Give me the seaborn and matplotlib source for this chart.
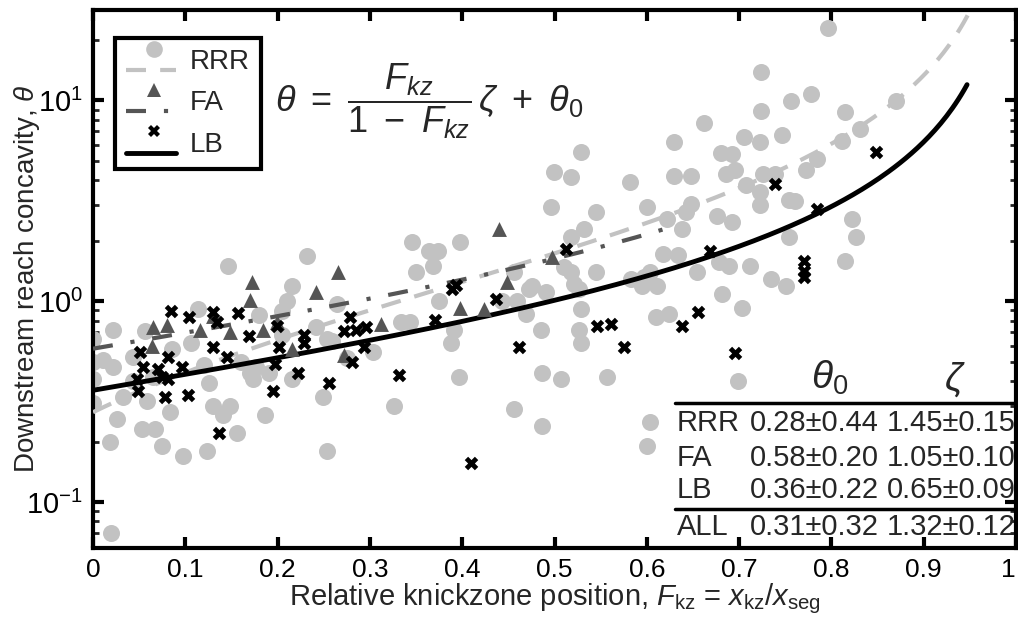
import numpy as np
import pandas as pd
import matplotlib
matplotlib.use('Agg')
import matplotlib.pyplot as plt
import seaborn as sns
from matplotlib.lines import Line2D
from matplotlib.legend_handler import HandlerBase

# RRR points (light grey circles)
rrr_x = [0.796, 0.724, 0.778, 0.756, 0.724, 0.815, 0.662, 0.705, 0.746, 0.723,
         0.630, 0.831, 0.811, 0.680, 0.692, 0.696, 0.686, 0.726, 0.739, 0.784,
         0.772, 0.629, 0.648, 0.708, 0.723, 0.723, 0.754, 0.761, 0.648, 0.622,
         0.638, 0.676, 0.692, 0.822, 0.827, 0.754, 0.618, 0.634, 0.654, 0.678,
         0.689, 0.712, 0.735, 0.751, 0.681, 0.703, 0.815, 0.870, 0.529, 0.582,
         0.545, 0.600, 0.642, 0.532, 0.545, 0.583, 0.595, 0.604, 0.611, 0.526,
         0.529, 0.526, 0.529, 0.610, 0.624, 0.557, 0.699, 0.499, 0.518, 0.496,
         0.346, 0.398, 0.364, 0.374, 0.368, 0.350, 0.518, 0.510, 0.518, 0.456,
         0.476, 0.491, 0.521, 0.375, 0.443, 0.459, 0.469, 0.334, 0.343, 0.391,
         0.485, 0.388, 0.397, 0.486, 0.507, 0.456, 0.486, 0.597, 0.472, 0.232,
         0.216, 0.210, 0.205, 0.264, 0.242, 0.253, 0.259, 0.205, 0.177, 0.191,
         0.216, 0.303, 0.275, 0.249, 0.326, 0.186, 0.254, 0.170, 0.146, 0.022,
         0.114, 0.056, 0.000, 0.011, 0.022, 0.000, 0.000, 0.026, 0.053, 0.067,
         0.018, 0.075, 0.097, 0.123, 0.083, 0.130, 0.148, 0.141, 0.156, 0.126,
         0.173, 0.032, 0.058, 0.043, 0.000, 0.019, 0.604, 0.600, 0.086, 0.106,
         0.120, 0.160, 0.043, 0.065, 0.180]
rrr_y = [22.9, 13.9, 10.8, 9.9, 8.9, 8.8, 7.7, 6.6, 6.7, 6.2,
         6.2, 7.2, 6.3, 5.5, 5.4, 4.5, 4.3, 4.3, 4.3, 5.1,
         4.5, 4.2, 4.2, 3.8, 3.5, 3.0, 3.2, 3.15, 3.05, 2.57,
         2.3, 2.66, 2.48, 2.57, 2.09, 2.09, 1.72, 1.70, 1.40, 1.57,
         1.50, 1.50, 1.29, 1.19, 1.08, 0.93, 1.58, 9.9, 5.56, 3.94,
         2.79, 2.95, 2.79, 2.29, 1.40, 1.29, 1.19, 1.40, 1.19, 1.15,
         0.91, 0.72, 0.62, 0.83, 0.86, 0.42, 0.40, 4.42, 4.17, 2.95,
         1.97, 1.97, 1.78, 1.78, 1.50, 1.40, 2.09, 1.48, 1.40, 1.40,
         1.19, 1.11, 1.22, 1.00, 1.00, 1.00, 0.86, 0.79, 0.79, 0.72,
         0.72, 0.62, 0.42, 0.44, 0.41, 0.29, 0.24, 1.32, 1.15, 1.68,
         1.19, 1.00, 0.89, 0.97, 0.74, 0.65, 0.63, 0.68, 0.47, 0.44,
         0.41, 0.56, 0.52, 0.335, 0.30, 0.27, 0.18, 0.44, 1.50, 0.72,
         0.91, 0.71, 0.65, 0.51, 0.47, 0.41, 0.31, 0.26, 0.23, 0.23,
         0.20, 0.19, 0.17, 0.18, 0.28, 0.30, 0.30, 0.27, 0.22, 0.39,
         0.41, 0.335, 0.32, 0.53, 0.50, 0.07, 0.25, 0.19, 0.58, 0.62,
         0.48, 0.50, 0.40, 0.42, 0.85]

# FA points (dark grey triangles)
fa_x = [0.065, 0.080, 0.064, 0.116, 0.148, 0.130, 0.170, 0.172, 0.184, 0.199,
        0.216, 0.242, 0.265, 0.272, 0.312, 0.398, 0.424, 0.449, 0.440, 0.497]
fa_y = [0.74, 0.76, 0.60, 0.72, 0.70, 0.84, 1.01, 1.24, 0.72, 0.79,
        0.58, 1.11, 1.40, 0.54, 0.77, 0.93, 0.91, 1.24, 2.29, 1.66]

# LB points (black crosses)
lb_x = [0.048, 0.049, 0.051, 0.054, 0.070, 0.075, 0.078, 0.081, 0.081, 0.085,
        0.096, 0.103, 0.104, 0.130, 0.134, 0.130, 0.137, 0.145, 0.157, 0.169,
        0.195, 0.197, 0.199, 0.202, 0.222, 0.229, 0.229, 0.256, 0.272, 0.278,
        0.281, 0.285, 0.294, 0.296, 0.332, 0.370, 0.389, 0.393, 0.410, 0.437,
        0.462, 0.512, 0.546, 0.561, 0.575, 0.638, 0.656, 0.669, 0.696, 0.739,
        0.770, 0.770, 0.770, 0.784, 0.848]
lb_y = [0.41, 0.355, 0.56, 0.47, 0.46, 0.42, 0.335, 0.53, 0.41, 0.89,
        0.47, 0.34, 0.83, 0.88, 0.79, 0.59, 0.22, 0.525, 0.87, 0.67,
        0.355, 0.485, 0.75, 0.59, 0.44, 0.68, 0.62, 0.39, 0.71, 0.83,
        0.50, 0.72, 0.59, 0.74, 0.43, 0.81, 1.15, 1.20, 0.157, 1.02,
        0.59, 1.82, 0.75, 0.77, 0.59, 0.75, 0.88, 1.78, 0.555, 3.84,
        1.58, 1.41, 1.32, 2.88, 5.56]

# fitted parameters (table)
groups = ['RRR', 'FA', 'LB', 'ALL']
theta0 = [0.28, 0.58, 0.36, 0.31]
theta0_err = [0.44, 0.20, 0.22, 0.32]
zeta = [1.45, 1.05, 0.65, 1.32]
zeta_err = [0.15, 0.10, 0.09, 0.12]
curve_xmax = {'RRR': 0.95, 'FA': 0.63, 'LB': 0.947}

c_rrr = '#c2c2c2'
c_fa = '#555555'
c_lb = 'black'
style = {
    'RRR': dict(color=c_rrr, lw=3, ls=(0, (4.8, 3.4))),
    'FA': dict(color=c_fa, lw=3, ls=(0, (4.8, 4.3, 1.0, 4.3))),
    'LB': dict(color=c_lb, lw=3.5, ls='-'),
}


class StackedHandler(HandlerBase):
    # marker drawn above the line sample, as in the original legend
    def create_artists(self, legend, orig_handle, xdescent, ydescent,
                       width, height, fontsize, trans):
        mk_src, ln_src = orig_handle
        y_mid = -ydescent + height / 2
        line = Line2D([-xdescent, -xdescent + width], [y_mid - 0.55 * height] * 2)
        line.update_from(ln_src)
        line.set_transform(trans)
        mk = Line2D([-xdescent + 0.55 * width], [y_mid + 0.55 * height])
        mk.update_from(mk_src)
        mk.set_transform(trans)
        return [line, mk]


sns.set_style('ticks')
plt.rcParams['font.family'] = ['Liberation Sans', 'DejaVu Sans']
plt.rcParams['mathtext.fontset'] = 'custom'
plt.rcParams['mathtext.rm'] = 'Liberation Sans'
plt.rcParams['mathtext.it'] = 'Liberation Sans:italic'
plt.rcParams['mathtext.bf'] = 'Liberation Sans:bold'

fig, ax = plt.subplots(figsize=(10.18, 6.23), dpi=100)
fig.subplots_adjust(left=0.0914, right=0.998, bottom=0.1204, top=0.984)

sns.scatterplot(x=rrr_x, y=rrr_y, ax=ax, color=c_rrr, marker='o', s=150,
                linewidth=0, zorder=2)

for i, g in enumerate(groups[:3]):
    fx = np.linspace(0, curve_xmax[g], 300)
    fy = fx / (1 - fx) * zeta[i] + theta0[i]
    df = pd.DataFrame({'F': fx, 'theta': fy})
    st = style[g]
    sns.lineplot(data=df, x='F', y='theta', ax=ax, color=st['color'],
                 linewidth=st['lw'], linestyle=st['ls'], zorder=3)

sns.scatterplot(x=fa_x, y=fa_y, ax=ax, color=c_fa, marker='^', s=115,
                linewidth=0, zorder=4)
sns.scatterplot(x=lb_x, y=lb_y, ax=ax, color=c_lb, marker='X', s=95,
                linewidth=0, zorder=5)

ax.set_yscale('log')
ax.set_xlim(0, 1)
ax.set_ylim(0.059, 28.2)
xt = np.round(np.arange(0, 1.01, 0.1), 1)
ax.set_xticks(xt)
ax.set_xticklabels(['0'] + [f'{v:.1f}' for v in xt[1:-1]] + ['1'])
ax.get_xticklabels()[-1].set_horizontalalignment('right')

ax.tick_params(axis='both', which='major', direction='in', length=8, width=3,
               top=True, right=True, pad=7, colors='black')
ax.tick_params(axis='x', labelsize=19)
ax.tick_params(axis='y', labelsize=21)
ax.tick_params(axis='y', which='minor', direction='in', length=4, width=2,
               left=True, right=True)
ax.tick_params(axis='x', which='minor', bottom=False, top=False)
for sp in ax.spines.values():
    sp.set_linewidth(3)
    sp.set_color('black')

ax.set_xlabel(r'Relative knickzone position, $F_{\mathrm{kz}}$ = $x_{\mathrm{kz}}$/$x_{\mathrm{seg}}$',
              fontsize=21, labelpad=0)
ax.set_ylabel(r'Downstream reach concavity, $\theta$', fontsize=20)
ax.yaxis.set_label_coords(-0.055, 0.5)

# legend
handles = []
for g, mk, ms in [('RRR', 'o', 12), ('FA', '^', 10), ('LB', 'X', 9)]:
    st = style[g]
    m = Line2D([], [], marker=mk, markersize=ms, color=st['color'],
               markeredgewidth=0, linestyle='none')
    l = Line2D([], [], color=st['color'], linewidth=st['lw'], linestyle=st['ls'])
    handles.append((m, l))
leg = ax.legend(handles, groups[:3], handler_map={tuple: StackedHandler()},
                loc='upper left', bbox_to_anchor=(0.024, 0.948), borderaxespad=0,
                fontsize=20, handlelength=1.8, handletextpad=0.5, labelspacing=0.55,
                fancybox=False, framealpha=1, edgecolor='black', borderpad=0.4)
leg.get_frame().set_linewidth(3)

# formula
ax.text(0.197, 0.831, r'$\theta\ =\ \dfrac{F_{kz}}{1\ -\ F_{kz}}\,\zeta\ +\ \theta_0$',
        transform=ax.transAxes, fontsize=26, va='center', ha='left')

# parameter table
ax.text(0.7985, 0.316, r'$\theta_0$', transform=ax.transAxes, fontsize=28,
        ha='center', va='center')
ax.text(0.9339, 0.312, r'$\zeta$', transform=ax.transAxes, fontsize=28,
        ha='center', va='center')
row_y = [0.2323, 0.1673, 0.1078, 0.0390]
for i, g in enumerate(groups):
    ax.text(0.6327, row_y[i], g, transform=ax.transAxes, fontsize=21, va='center')
    ax.text(0.7118, row_y[i], f'{theta0[i]:.2f}\u00b1{theta0_err[i]:.2f}',
            transform=ax.transAxes, fontsize=21, va='center')
    ax.text(0.8602, row_y[i], f'{zeta[i]:.2f}\u00b1{zeta_err[i]:.2f}',
            transform=ax.transAxes, fontsize=21, va='center')
for yy in [0.2695, 0.0725]:
    ax.plot([0.6306, 1.0], [yy, yy], transform=ax.transAxes, color='black',
            lw=2.5, clip_on=False, zorder=6)

fig.savefig('out.png', dpi=100)
